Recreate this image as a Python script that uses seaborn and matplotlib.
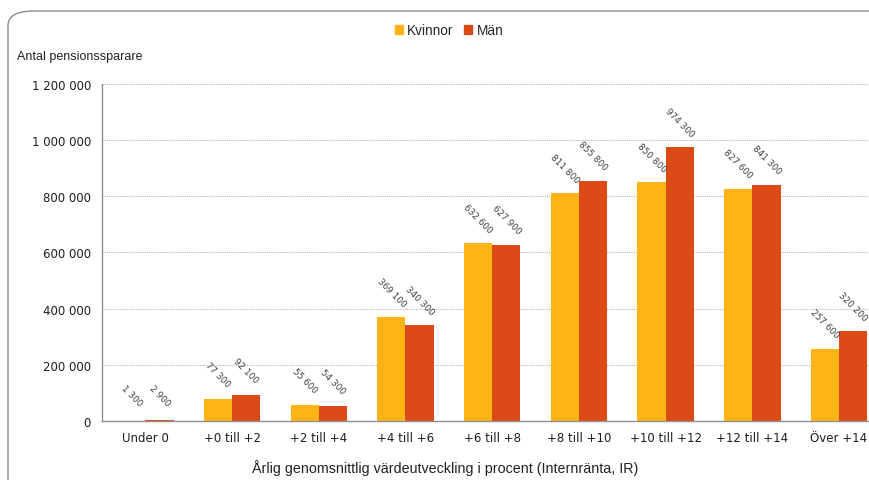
import matplotlib
matplotlib.use("Agg")
import matplotlib.pyplot as plt
import seaborn as sns
import pandas as pd
from matplotlib.patches import FancyBboxPatch
from matplotlib.ticker import FuncFormatter, MultipleLocator

categories = ["Under 0", "+0 till +2", "+2 till +4", "+4 till +6", "+6 till +8",
              "+8 till +10", "+10 till +12", "+12 till +14", "Över +14"]
kvinnor = [1300, 77300, 55600, 369100, 632600, 811800, 850800, 827600, 257600]
man = [2900, 92100, 54300, 340300, 627900, 855800, 974300, 841300, 320200]
series_names = ["Kvinnor", "Män"]
colors = ["#FDB414", "#DC4B16"]

df = pd.DataFrame({
    "Kategori": categories * 2,
    "Kön": [series_names[0]] * len(categories) + [series_names[1]] * len(categories),
    "Antal": kvinnor + man,
})

sns.set_style("white")
plt.rcParams["font.family"] = ["DejaVu Sans"]

fig = plt.figure(figsize=(8.69, 4.81), dpi=100)
ax = fig.add_axes([0.1174, 0.1227, 0.898, 0.7006])

sns.barplot(data=df, x="Kategori", y="Antal", hue="Kön", order=categories,
            hue_order=series_names, palette=colors, width=0.65, saturation=1,
            ax=ax, legend=False, edgecolor="none")

def fmt(v):
    return f"{int(round(v)):,}".replace(",", " ")

# rotated value labels above each bar
for container in ax.containers:
    for bar in container:
        h = bar.get_height()
        ax.annotate(fmt(h), xy=(bar.get_x() + bar.get_width() / 2, h),
                    xytext=(0, 18), textcoords="offset points",
                    ha="center", va="center", rotation=-45,
                    fontsize=6.4, color="#404040")

ax.set_xlim(-0.5, len(categories) - 0.5)
ax.set_ylim(0, 1200000)
ax.yaxis.set_major_locator(MultipleLocator(200000))
ax.yaxis.set_major_formatter(FuncFormatter(lambda v, p: fmt(v)))
ax.grid(axis="y", color="#B8B8B8", linestyle=(0, (1, 1)), linewidth=0.8)
ax.set_axisbelow(True)

for s in ["top", "right"]:
    ax.spines[s].set_visible(False)
for s in ["left", "bottom"]:
    ax.spines[s].set_color("#909090")
    ax.spines[s].set_linewidth(1.0)

ax.tick_params(axis="y", which="major", direction="out", length=5, color="#909090",
               labelsize=8.5, labelcolor="#1E1E1E", pad=3)
ax.set_xticks(range(len(categories)))
ax.set_xticklabels(categories)
ax.tick_params(axis="x", which="major", length=0, labelsize=8.5,
               labelcolor="#1E1E1E", pad=7)
ax.set_xticks([i - 0.5 for i in range(len(categories) + 1)], minor=True)
ax.tick_params(axis="x", which="minor", direction="out", length=5, color="#909090")

ax.set_xlabel("")
ax.set_ylabel("")

fig.text(445 / 869, 1 - 468 / 481,
         "Årlig genomsnittlig värdeutveckling i procent (Internränta, IR)",
         fontsize=10.3, family=["Liberation Sans"], color="#222222",
         ha="center", va="center")

fig.text(17 / 869, 1 - 57 / 481, "Antal pensionssparare", fontsize=9,
         family=["Liberation Sans"], color="#222222", ha="left", va="center")

# legend
handles = [plt.Rectangle((0, 0), 1, 1, color=c) for c in colors]
fig.legend(handles, series_names, loc="center", bbox_to_anchor=(449 / 869, 1 - 31 / 481),
           ncol=2, frameon=False, handlelength=0.6, handleheight=0.6,
           handletextpad=0.3, columnspacing=0.8,
           prop={"family": "Liberation Sans", "size": 9.8})

# rounded outer frame
frame = FancyBboxPatch((8 / 869, -0.1), 1.2, 1 - 12 / 481 + 0.1,
                       boxstyle="round,pad=0,rounding_size=0.03",
                       transform=fig.transFigure, fill=False,
                       edgecolor="#8C8C8C", linewidth=1.0, clip_on=False)
fig.patches.append(frame)

fig.savefig("out.png", dpi=100)
